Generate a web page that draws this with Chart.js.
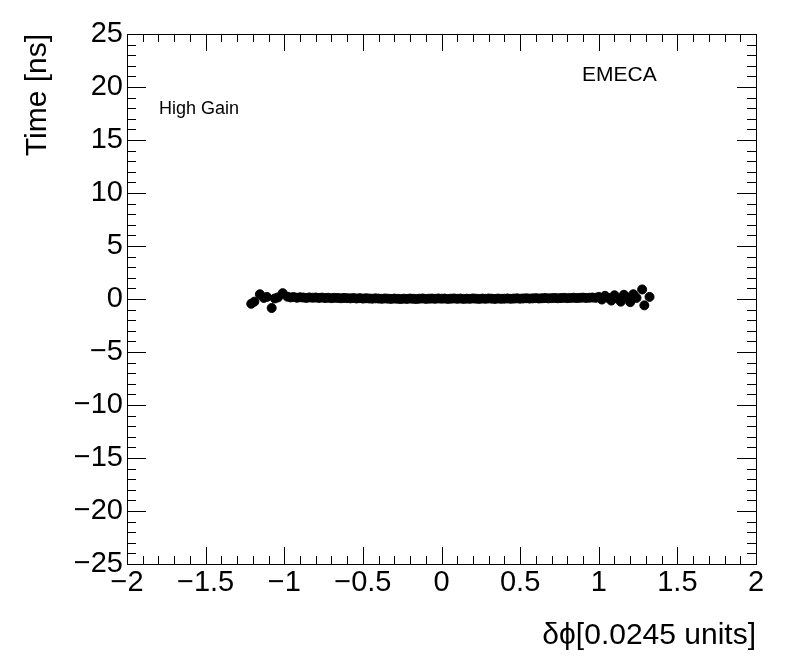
<!DOCTYPE html>
<html lang="en">
<head>
    <meta charset="UTF-8">
    <title>EMECA High Gain timing</title>
    <script src="https://cdn.jsdelivr.net/npm/chart.js"></script>
    <style>
        body {
            margin: 0;
            background-color: white;
        }
    </style>
</head>
<body>
<canvas id="timeChart" width="796" height="672"></canvas>

<script>
    // delta phi positions (x) and mean times (y)
    const dphi = [
        -1.21, -1.19, -1.155, -1.13, -1.11, -1.08, -1.06, -1.04, -1.01,
        -0.98, -0.96, -0.94, -0.92, -0.90, -0.88, -0.86, -0.84, -0.82, -0.80,
        -0.78, -0.76, -0.74, -0.72, -0.70, -0.68, -0.66, -0.64, -0.62, -0.60,
        -0.58, -0.56, -0.54, -0.52, -0.50, -0.48, -0.46, -0.44, -0.42, -0.40,
        -0.38, -0.36, -0.34, -0.32, -0.30, -0.28, -0.26, -0.24, -0.22, -0.20,
        -0.18, -0.16, -0.14, -0.12, -0.10, -0.08, -0.06, -0.04, -0.02, 0.00,
        0.02, 0.04, 0.06, 0.08, 0.10, 0.12, 0.14, 0.16, 0.18, 0.20,
        0.22, 0.24, 0.26, 0.28, 0.30, 0.32, 0.34, 0.36, 0.38, 0.40,
        0.42, 0.44, 0.46, 0.48, 0.50, 0.52, 0.54, 0.56, 0.58, 0.60,
        0.62, 0.64, 0.66, 0.68, 0.70, 0.72, 0.74, 0.76, 0.78, 0.80,
        0.82, 0.84, 0.86, 0.88, 0.90, 0.92, 0.94, 0.96, 0.98,
        1.00, 1.02, 1.04, 1.06, 1.08, 1.10, 1.12, 1.14, 1.16, 1.18,
        1.20, 1.22, 1.24, 1.276, 1.29, 1.323
    ];
    const times = [
        -0.45, -0.25, 0.45, 0.10, 0.20, -0.85, 0.05, 0.15, 0.55,
        0.22, 0.15, 0.18, 0.12, 0.16, 0.14, 0.10, 0.15, 0.12, 0.14,
        0.10, 0.13, 0.09, 0.12, 0.08, 0.11, 0.10, 0.07, 0.10, 0.08,
        0.06, 0.09, 0.05, 0.08, 0.04, 0.07, 0.05, 0.03, 0.06, 0.04,
        0.02, 0.05, 0.03, 0.01, 0.04, 0.02, 0.00, 0.03, 0.01, 0.04,
        0.02, 0.00, 0.03, 0.05, 0.01, 0.03, 0.04, 0.02, 0.05, 0.03,
        0.04, 0.01, 0.03, 0.05, 0.02, 0.04, 0.01, 0.03, 0.02, 0.05,
        0.03, 0.01, 0.04, 0.02, 0.05, 0.03, 0.01, 0.04, 0.02, 0.03,
        0.05, 0.02, 0.04, 0.06, 0.03, 0.05, 0.07, 0.04, 0.06, 0.08,
        0.05, 0.07, 0.09, 0.06, 0.08, 0.10, 0.07, 0.09, 0.11, 0.08,
        0.10, 0.12, 0.09, 0.11, 0.13, 0.10, 0.12, 0.14, 0.11,
        0.20, -0.05, 0.30, 0.10, -0.15, 0.35, 0.05, -0.25, 0.40, 0.15,
        -0.30, 0.45, 0.10, 0.90, -0.60, 0.20
    ];

    const xTicks = [-2, -1.5, -1, -0.5, 0, 0.5, 1, 1.5, 2];
    const yTicks = [-25, -20, -15, -10, -5, 0, 5, 10, 15, 20, 25];

    const fontFam = '"Liberation Sans", Arial, sans-serif';
    const minus = v => String(v).replace('-', '\u2212');

    // ROOT style frame: ticks inside on all four sides, plus the two labels
    const frame = {
        id: 'frame',
        afterDraw(chart) {
            const ctx = chart.ctx;
            const a = chart.chartArea;
            const xs = chart.scales.x;
            const ys = chart.scales.y;
            ctx.save();
            ctx.strokeStyle = '#000';
            ctx.lineWidth = 1;
            ctx.strokeRect(a.left + 0.5, a.top + 0.5, a.right - a.left, a.bottom - a.top);
            ctx.beginPath();
            for (let i = -20; i <= 20; i++) {
                const px = Math.round(xs.getPixelForValue(i / 10)) + 0.5;
                const len = i % 5 === 0 ? 17 : 8;
                ctx.moveTo(px, a.bottom);
                ctx.lineTo(px, a.bottom - len);
                ctx.moveTo(px, a.top);
                ctx.lineTo(px, a.top + len);
            }
            for (let j = -25; j <= 25; j++) {
                const py = Math.round(ys.getPixelForValue(j)) + 0.5;
                const len = j % 5 === 0 ? 19 : 9;
                ctx.moveTo(a.left, py);
                ctx.lineTo(a.left + len, py);
                ctx.moveTo(a.right, py);
                ctx.lineTo(a.right - len, py);
            }
            ctx.stroke();

            ctx.fillStyle = '#000';
            ctx.textBaseline = 'alphabetic';
            ctx.font = '18px ' + fontFam;
            ctx.fillText('High Gain', 159, 114);
            ctx.font = '21px ' + fontFam;
            ctx.fillText('EMECA', 582, 81);
            ctx.restore();
        }
    };

    const ctx = document.getElementById('timeChart').getContext('2d');
    new Chart(ctx, {
        type: 'scatter',
        data: {
            datasets: [{
                data: dphi.map((x, i) => ({x: x, y: times[i]})),
                backgroundColor: '#000',
                borderColor: '#000',
                borderWidth: 1,
                pointRadius: 4.5
            }]
        },
        options: {
            responsive: false,
            animation: false,
            layout: {
                padding: {top: 34, right: 40, left: 0, bottom: 0}
            },
            plugins: {
                legend: {display: false},
                tooltip: {enabled: false}
            },
            scales: {
                x: {
                    type: 'linear',
                    min: -2,
                    max: 2,
                    afterBuildTicks: s => { s.ticks = xTicks.map(v => ({value: v})); },
                    afterFit: s => { s.height = 108; },
                    grid: {display: false, drawTicks: false},
                    border: {display: false},
                    ticks: {
                        color: '#000',
                        padding: 2,
                        maxRotation: 0,
                        font: {family: fontFam, size: 29},
                        callback: v => minus(v)
                    },
                    title: {
                        display: true,
                        text: '\u03b4\u03d5[0.0245 units]',
                        align: 'end',
                        color: '#000',
                        font: {family: fontFam, size: 30},
                        padding: {top: 0, bottom: 18}
                    }
                },
                y: {
                    type: 'linear',
                    min: -25,
                    max: 25,
                    afterBuildTicks: s => { s.ticks = yTicks.map(v => ({value: v})); },
                    afterFit: s => { s.width = 127; },
                    grid: {display: false, drawTicks: false},
                    border: {display: false},
                    ticks: {
                        color: '#000',
                        padding: 4,
                        font: {family: fontFam, size: 29},
                        callback: v => minus(v)
                    },
                    title: {
                        display: true,
                        text: 'Time [ns]',
                        align: 'end',
                        color: '#000',
                        font: {family: fontFam, size: 30},
                        padding: {top: 20, bottom: 0}
                    }
                }
            }
        },
        plugins: [frame]
    });
</script>
</body>
</html>
